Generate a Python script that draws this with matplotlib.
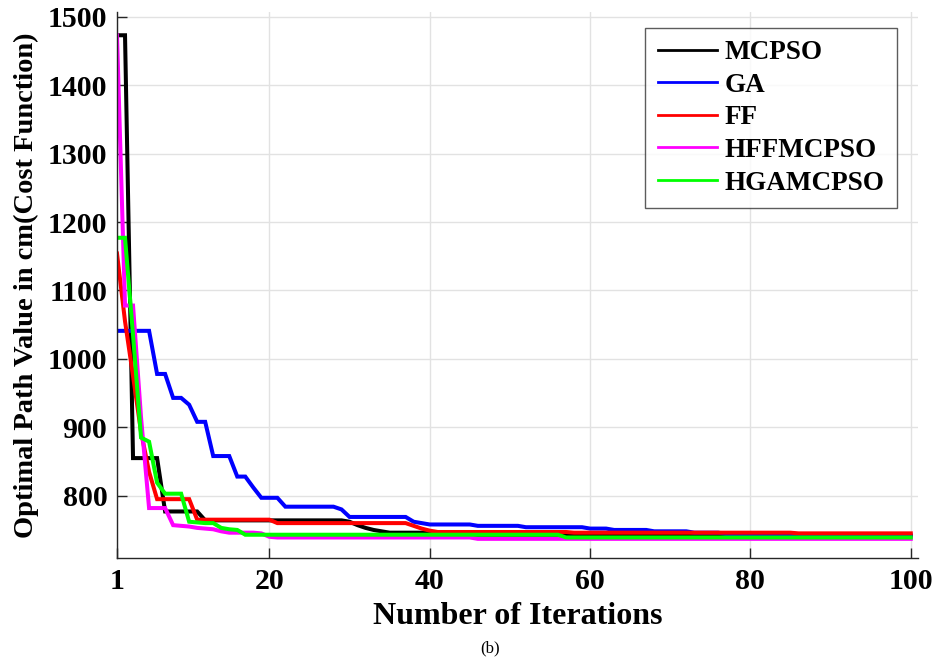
import matplotlib
matplotlib.use("Agg")
import matplotlib.pyplot as plt
import numpy as np

# best cost per iteration
iterations = np.arange(1, 101)

mcpso = ([1473, 1473, 855, 855, 855, 855, 777, 777, 777, 777, 777]
         + [764] * 18
         + [762, 757, 753, 750, 748]
         + [746] * 9 + [743] * 14 + [742] * 17 + [741] * 26)

ga = ([1041] * 5 + [978] * 2 + [943] * 2 + [933] + [908] * 2 + [858] * 3
      + [828] * 2 + [812] + [797] * 3 + [784] * 7 + [780] + [769] * 8
      + [762, 760] + [758] * 6 + [756] * 6 + [754] * 8 + [752] * 3
      + [750] * 5 + [748] * 5 + [746] * 4 + [744] * 9 + [742] * 15)

ff = ([1154, 1055, 975, 893, 835] + [795] * 5 + [765] * 10 + [760] * 17
      + [756, 752, 749] + [747] * 17 + [746] * 28 + [745] * 15)

hffmcpso = ([1473, 1078, 1078, 914, 782, 782, 782, 757, 756, 755, 753, 752,
             751, 748, 746, 746, 746, 746, 745, 740]
            + [739] * 25 + [737] * 55)

hgamcpso = ([1177, 1177, 1035, 885, 879, 819, 803, 803, 803, 762, 761, 760,
             760, 753, 751, 750]
            + [743] * 40 + [739] * 44)

series = [("MCPSO", mcpso, "black"),
          ("GA", ga, "#0000ff"),
          ("FF", ff, "#ff0000"),
          ("HFFMCPSO", hffmcpso, "#ff00ff"),
          ("HGAMCPSO", hgamcpso, "#00ff00")]

x_ticks = [1, 20, 40, 60, 80, 100]
y_ticks = [800, 900, 1000, 1100, 1200, 1300, 1400, 1500]

plt.rcParams['font.family'] = ['Liberation Serif', 'DejaVu Serif']
plt.rcParams['font.weight'] = 'bold'

fig = plt.figure(figsize=(9.35, 6.66), dpi=100)
ax = fig.add_axes([117 / 935, 1 - 558 / 666, (918 - 117) / 935, (558 - 12) / 666])

for name, vals, col in series:
    ax.plot(iterations, vals, color=col, lw=2.9, label=name, solid_joinstyle='miter')

ax.set_xlim(1, 100.9)
ax.set_ylim(709, 1507)
ax.set_xticks(x_ticks)
ax.set_yticks(y_ticks)
ax.grid(True, color='#e2e2e2', lw=1)
ax.set_axisbelow(True)
for s in ['top', 'right']:
    ax.spines[s].set_visible(False)
for s in ['left', 'bottom']:
    ax.spines[s].set_color('#262626')
    ax.spines[s].set_linewidth(1.0)
ax.tick_params(direction='in', length=7, width=1, color='#262626',
               labelsize=21.5, pad=7)
for lab in ax.get_xticklabels() + ax.get_yticklabels():
    lab.set_fontweight('bold')

ax.set_xlabel("Number of Iterations", fontsize=23, fontweight='bold', labelpad=5)
ax.set_ylabel("Optimal Path Value in cm(Cost Function)", fontsize=20.5,
              fontweight='bold', labelpad=6)

leg = ax.legend(loc='upper right', bbox_to_anchor=(897 / 935, 1 - 28 / 666),
                bbox_transform=fig.transFigure, borderaxespad=0, fancybox=False,
                prop={'size': 19.5, 'weight': 'bold'}, handlelength=2.2,
                labelspacing=0.28, borderpad=0.45, handletextpad=0.28)
leg.get_frame().set_edgecolor('#333333')
leg.get_frame().set_linewidth(1.0)
for line in leg.get_lines():
    line.set_linewidth(2.0)

fig.text(490 / 935, 1 - 648 / 666, "(b)", fontsize=12, fontweight='normal',
         ha='center', va='center')

fig.savefig("out.png", dpi=100)
